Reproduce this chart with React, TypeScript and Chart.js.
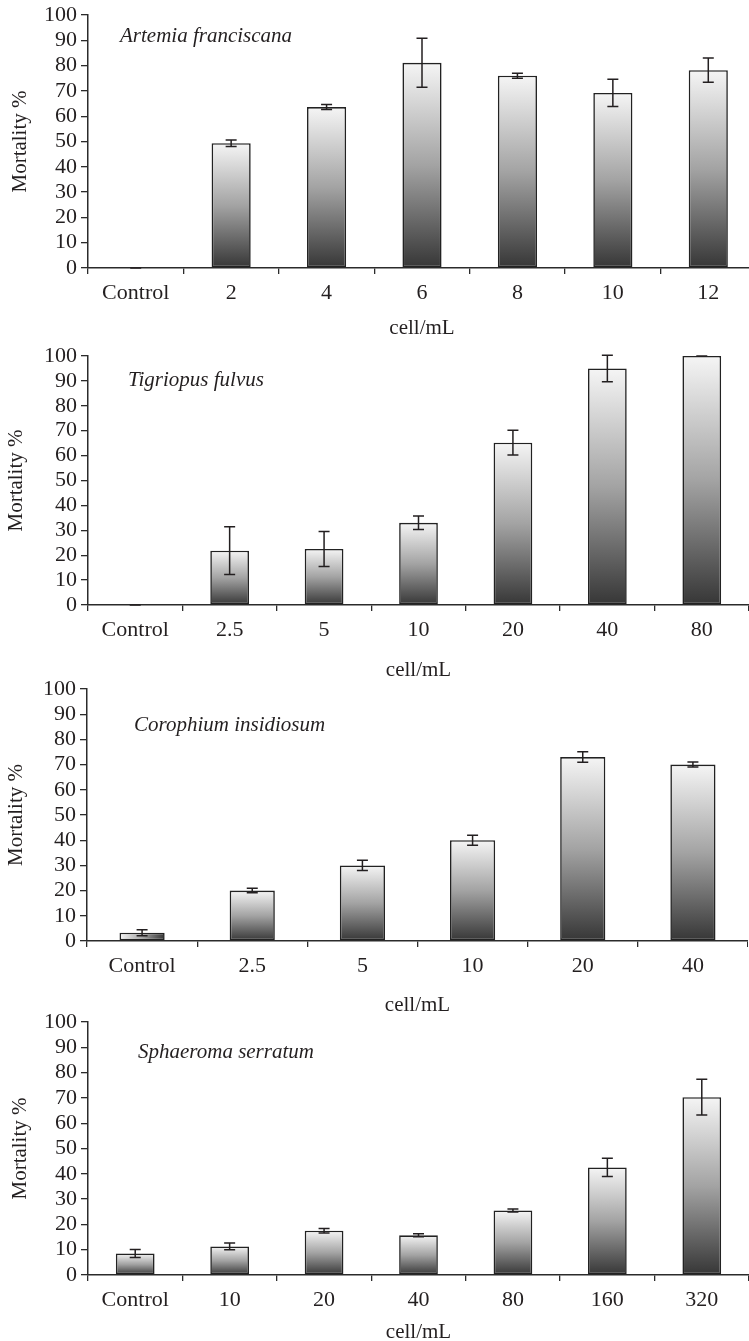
import React, { useEffect, useRef } from 'react';
import { Chart, registerables } from 'chart.js';

Chart.register(...registerables);

// ---------- data ----------
const artemiaLabels = ['Control', '2', '4', '6', '8', '10', '12'];
const artemiaValues = [0, 49.3, 63.6, 81.1, 76.0, 69.2, 78.2];
const artemiaErrors = [0, 1.3, 1.0, 9.7, 1.0, 5.4, 4.8];

const tigriopusLabels = ['Control', '2.5', '5', '10', '20', '40', '80'];
const tigriopusValues = [0, 21.8, 22.5, 33.0, 65.2, 95.0, 100];
const tigriopusErrors = [0, 9.6, 7.0, 2.7, 5.0, 5.3, 0];

const corophiumLabels = ['Control', '2.5', '5', '10', '20', '40'];
const corophiumValues = [3.3, 20.0, 30.0, 40.0, 73.0, 70.0];
const corophiumErrors = [1.2, 0.9, 2.0, 2.0, 2.1, 1.0];

const sphaeromaLabels = ['Control', '10', '20', '40', '80', '160', '320'];
const sphaeromaValues = [8.5, 11.3, 17.5, 15.7, 25.5, 42.5, 70.3];
const sphaeromaErrors = [1.6, 1.3, 0.9, 0.6, 0.6, 3.6, 7.1];

const speciesNames = ['Artemia franciscana', 'Tigriopus fulvus', 'Corophium insidiosum', 'Sphaeroma serratum'];
const xAxisTitle = 'cell/mL';
const yAxisTitle = 'Mortality %';
const yMin = 0;
const yMax = 100;
const yStep = 10;

// ---------- layout (positions/sizes only) ----------
const FONT = "'Liberation Serif', 'Times New Roman', Times, serif";
const INK = '#231f20';
const AXIS = '#2b2b2b';
const BAR_FRACTION = 0.41;

type Panel = {
  labels: string[];
  values: number[];
  errors: number[];
  species: string;
  top: number;
  width: number;
  height: number;
  yWidth: number;
  yTitleCenter: number;
  xTitlePadBottom: number;
  speciesDx: number;
  speciesDy: number;
  horizontalGradientIndex: number;
};

const panels: Panel[] = [
  {
    labels: artemiaLabels, values: artemiaValues, errors: artemiaErrors, species: speciesNames[0],
    top: 0, width: 756, height: 348, yWidth: 88, yTitleCenter: 20, xTitlePadBottom: 7.4,
    speciesDx: 32, speciesDy: 21, horizontalGradientIndex: -1,
  },
  {
    labels: tigriopusLabels, values: tigriopusValues, errors: tigriopusErrors, species: speciesNames[1],
    top: 341, width: 749, height: 344, yWidth: 88, yTitleCenter: 16, xTitlePadBottom: 2.4,
    speciesDx: 40, speciesDy: 24, horizontalGradientIndex: -1,
  },
  {
    labels: corophiumLabels, values: corophiumValues, errors: corophiumErrors, species: speciesNames[2],
    top: 674, width: 748, height: 347, yWidth: 87, yTitleCenter: 16.5, xTitlePadBottom: 3.4,
    speciesDx: 47, speciesDy: 36, horizontalGradientIndex: 0,
  },
  {
    labels: sphaeromaLabels, values: sphaeromaValues, errors: sphaeromaErrors, species: speciesNames[3],
    top: 1007, width: 749, height: 348, yWidth: 88, yTitleCenter: 20, xTitlePadBottom: 10.4,
    speciesDx: 50, speciesDy: 30, horizontalGradientIndex: -1,
  },
];

function makeGradient(ctx: any, x0: number, y0: number, x1: number, y1: number) {
  const g = ctx.createLinearGradient(x0, y0, x1, y1);
  g.addColorStop(0, '#f5f5f5');
  g.addColorStop(0.5, '#a3a3a3');
  g.addColorStop(1, '#363636');
  return g;
}

function PanelChart({ panel }: { panel: Panel }) {
  const ref = useRef<HTMLCanvasElement | null>(null);

  useEffect(() => {
    const canvas = ref.current;
    if (!canvas) return;

    const errorBars = {
      id: 'errorBars',
      afterDatasetsDraw(chart: any) {
        const meta = chart.getDatasetMeta(0);
        const y = chart.scales.y;
        const c = chart.ctx;
        c.save();
        c.strokeStyle = INK;
        c.lineWidth = 1.5;
        meta.data.forEach((bar: any, i: number) => {
          const v = panel.values[i];
          const e = panel.errors[i];
          const yTop = y.getPixelForValue(v + e);
          const yBot = y.getPixelForValue(v - e);
          const x = bar.x;
          const cap = 5.5;
          c.beginPath();
          c.moveTo(x, yTop);
          c.lineTo(x, yBot);
          c.moveTo(x - cap, yTop);
          c.lineTo(x + cap, yTop);
          c.moveTo(x - cap, yBot);
          c.lineTo(x + cap, yBot);
          c.stroke();
        });
        c.restore();
      },
    };

    const speciesLabel = {
      id: 'speciesLabel',
      afterDraw(chart: any) {
        const c = chart.ctx;
        const area = chart.chartArea;
        c.save();
        c.font = `italic 21px ${FONT}`;
        c.fillStyle = INK;
        c.textAlign = 'left';
        c.textBaseline = 'middle';
        c.fillText(panel.species, area.left + panel.speciesDx, area.top + panel.speciesDy);
        c.restore();
      },
    };

    const chart = new Chart(canvas, {
      type: 'bar',
      data: {
        labels: panel.labels,
        datasets: [
          {
            data: panel.values,
            backgroundColor: (ctx: any) => {
              const ch = ctx.chart;
              if (ctx.type !== 'data' || !ch.chartArea) return '#999';
              const ys = ch.scales.y;
              const xs = ch.scales.x;
              const v = ctx.raw as number;
              if (ctx.dataIndex === panel.horizontalGradientIndex) {
                const cx = xs.getPixelForValue(ctx.dataIndex);
                const w = (xs.width / panel.labels.length) * BAR_FRACTION;
                return makeGradient(ch.ctx, cx - w / 2, 0, cx + w / 2, 0);
              }
              return makeGradient(ch.ctx, 0, ys.getPixelForValue(v), 0, ys.getPixelForValue(0));
            },
            borderColor: '#222222',
            borderWidth: (ctx: any) => (ctx.raw === 0 ? 0 : 1.6),
            borderSkipped: false,
            categoryPercentage: 1,
            barPercentage: BAR_FRACTION,
          },
        ],
      },
      options: {
        responsive: false,
        animation: false,
        devicePixelRatio: 1,
        layout: { padding: { top: 15, left: 0, right: 0, bottom: 0 } },
        plugins: {
          legend: { display: false },
          tooltip: { enabled: false },
          title: { display: false },
        },
        scales: {
          x: {
            type: 'category',
            grid: {
              display: true,
              offset: true,
              drawOnChartArea: false,
              drawTicks: true,
              tickLength: 6,
              color: AXIS,
              lineWidth: 1.3,
            },
            border: { display: true, color: AXIS, width: 1.5 },
            ticks: {
              color: INK,
              padding: 6,
              maxRotation: 0,
              autoSkip: false,
              font: { family: FONT, size: 22 },
            },
            title: {
              display: true,
              text: xAxisTitle,
              color: INK,
              font: { family: FONT, size: 21 },
              padding: { top: 0, bottom: panel.xTitlePadBottom },
            },
            afterFit: (scale: any) => {
              scale.height = 80;
            },
          },
          y: {
            type: 'linear',
            min: yMin,
            max: yMax,
            grid: {
              display: true,
              drawOnChartArea: false,
              drawTicks: true,
              tickLength: 7,
              color: AXIS,
              lineWidth: 1.3,
            },
            border: { display: true, color: AXIS, width: 1.5 },
            ticks: {
              stepSize: yStep,
              autoSkip: false,
              color: INK,
              padding: 4,
              font: { family: FONT, size: 22, lineHeight: 1.0 },
            },
            title: {
              display: true,
              text: yAxisTitle,
              color: INK,
              font: { family: FONT, size: 21 },
              padding: { top: panel.yTitleCenter - 12.6, bottom: 0 },
            },
            afterFit: (scale: any) => {
              scale.width = panel.yWidth;
            },
          },
        },
      },
      plugins: [errorBars, speciesLabel],
    } as any);

    return () => chart.destroy();
  }, [panel]);

  return (
    <canvas
      ref={ref}
      width={panel.width}
      height={panel.height}
      style={{
        position: 'absolute',
        left: 0,
        top: panel.top,
        width: panel.width,
        height: panel.height,
        display: 'block',
      }}
    />
  );
}

export default function App() {
  return (
    <div
      style={{
        position: 'absolute',
        left: 0,
        top: 0,
        width: 749,
        height: 1341,
        overflow: 'hidden',
        background: '#ffffff',
      }}
    >
      {panels.map((p, i) => (
        <PanelChart key={i} panel={p} />
      ))}
    </div>
  );
}
